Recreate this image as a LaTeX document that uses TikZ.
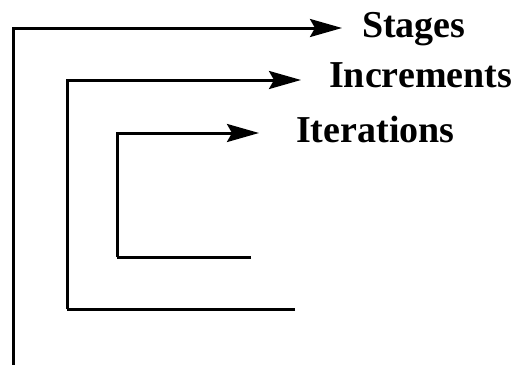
\documentclass[tikz,border=0pt]{standalone}
\usepackage{fontspec}
\setmainfont{Liberation Serif}
\usetikzlibrary{arrows.meta}
\begin{document}
\begin{tikzpicture}[x=1pt,y=-1pt,
  flow/.style={line width=3pt,line join=miter,-{Stealth[length=32pt,width=18pt,inset=5pt]}},
  plain/.style={line width=3pt,line join=miter},
  lbl/.style={font=\bfseries\fontsize{38}{42}\selectfont,inner sep=0pt,anchor=base west}]
\useasboundingbox (0,0) rectangle (518,364);
% labels
\node[lbl] (stages) at (362,37) {Stages};
\node[lbl] (incr) at (329,87) {Increments};
\node[lbl] (iter) at (296,142) {Iterations};
% corner coordinates
\coordinate (sB) at (13,366);
\coordinate (sT) at (342,28);
\coordinate (nB) at (295,309);
\coordinate (nC) at (67,309);
\coordinate (nT) at (301,80);
\coordinate (iB) at (251,257);
\coordinate (iC) at (117,257);
\coordinate (iT) at (259,133);
% connectors
\draw[flow] (sB) |- (sT);
\draw[plain] (nB) -- (nC);
\draw[flow] (nC) |- (nT);
\draw[plain] (iB) -- (iC);
\draw[flow] (iC) |- (iT);
\end{tikzpicture}
\end{document}
